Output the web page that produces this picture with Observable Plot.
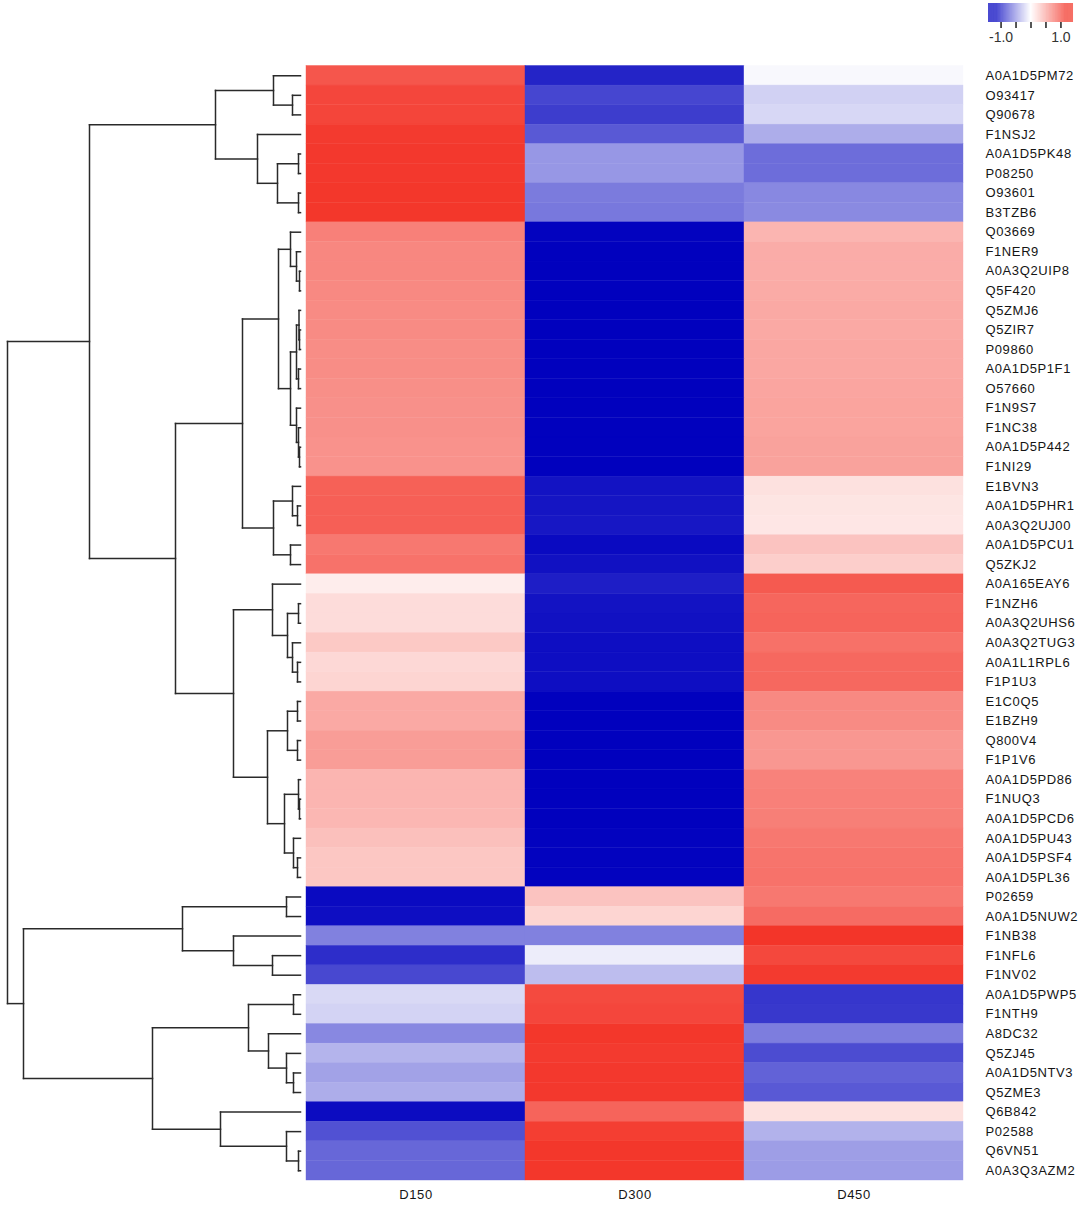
<!DOCTYPE html>
<html>
<head>
<meta charset="utf-8">
<script src="https://cdn.jsdelivr.net/npm/d3@7"></script>
<script src="https://cdn.jsdelivr.net/npm/@observablehq/plot@0.6"></script>
<style>
  body { margin: 0; background: #fff; }
  #chart { position: relative; width: 1084px; height: 1205px; font-family: "Liberation Sans", Arial, sans-serif; }
  #chart > svg { position: absolute; overflow: visible; }
</style>
</head>
<body>
<div id="chart"></div>
<script>
// ---- data ----
const samples = ["D150", "D300", "D450"];
const proteins = [
  "A0A1D5PM72","O93417","Q90678","F1NSJ2","A0A1D5PK48","P08250","O93601","B3TZB6",
  "Q03669","F1NER9","A0A3Q2UIP8","Q5F420","Q5ZMJ6","Q5ZIR7","P09860","A0A1D5P1F1",
  "O57660","F1N9S7","F1NC38","A0A1D5P442","F1NI29","E1BVN3","A0A1D5PHR1","A0A3Q2UJ00",
  "A0A1D5PCU1","Q5ZKJ2","A0A165EAY6","F1NZH6","A0A3Q2UHS6","A0A3Q2TUG3","A0A1L1RPL6","F1P1U3",
  "E1C0Q5","E1BZH9","Q800V4","F1P1V6","A0A1D5PD86","F1NUQ3","A0A1D5PCD6","A0A1D5PU43",
  "A0A1D5PSF4","A0A1D5PL36","P02659","A0A1D5NUW2","F1NB38","F1NFL6","F1NV02","A0A1D5PWP5",
  "F1NTH9","A8DC32","Q5ZJ45","A0A1D5NTV3","Q5ZME3","Q6B842","P02588","Q6VN51","A0A3Q3AZM2"
];
const d150 = [
  0.96, 1.05, 1.06, 1.12, 1.13, 1.13, 1.14, 1.14,
  0.72, 0.68, 0.68, 0.67, 0.66, 0.66, 0.65, 0.65,
  0.64, 0.63, 0.63, 0.62, 0.62, 0.90, 0.91, 0.91,
  0.77, 0.80, 0.10, 0.20, 0.20, 0.31, 0.22, 0.24,
  0.49, 0.49, 0.56, 0.56, 0.42, 0.42, 0.41, 0.36,
  0.32, 0.32, -1.11, -1.09, -0.57, -0.95, -0.83, -0.17,
  -0.20, -0.54, -0.34, -0.42, -0.37, -1.10, -0.79, -0.69, -0.69
];
const d300 = [
  -0.99, -0.84, -0.88, -0.75, -0.47, -0.47, -0.60, -0.61,
  -1.14, -1.15, -1.15, -1.15, -1.15, -1.15, -1.15, -1.15,
  -1.15, -1.15, -1.15, -1.15, -1.15, -1.07, -1.06, -1.05,
  -1.11, -1.08, -1.02, -1.07, -1.08, -1.09, -1.09, -1.09,
  -1.15, -1.15, -1.15, -1.15, -1.15, -1.15, -1.15, -1.14,
  -1.14, -1.14, 0.34, 0.24, -0.57, -0.08, -0.30, 1.03,
  1.05, 1.14, 1.12, 1.13, 1.13, 0.88, 1.10, 1.14, 1.14
];
const d450 = [
  -0.03, -0.21, -0.18, -0.37, -0.66, -0.66, -0.54, -0.53,
  0.42, 0.47, 0.47, 0.48, 0.49, 0.49, 0.50, 0.50,
  0.51, 0.52, 0.52, 0.53, 0.53, 0.17, 0.15, 0.14,
  0.34, 0.28, 0.94, 0.87, 0.88, 0.81, 0.86, 0.86,
  0.67, 0.66, 0.59, 0.59, 0.71, 0.72, 0.73, 0.77,
  0.79, 0.80, 0.77, 0.84, 1.15, 1.04, 1.12, -0.91,
  -0.90, -0.59, -0.81, -0.71, -0.75, 0.17, -0.35, -0.44, -0.45
];
// row clustering: [childA, childB, height]; number = row index, "mK" = K-th merge
const merges = [
  [1, 2, 0.08], [0, "m0", 0.27], [4, 5, 0.02], [6, 7, 0.02], ["m2", "m3", 0.23],
  [3, "m4", 0.43], ["m1", "m5", 0.85], [10, 11, 0.01], [9, "m7", 0.04], [8, "m8", 0.10],
  [13, 14, 0.01], [12, "m10", 0.015], [15, 16, 0.02], ["m11", "m12", 0.04], [19, 20, 0.01],
  [18, "m14", 0.02], [17, "m15", 0.04], ["m13", "m16", 0.10], ["m9", "m17", 0.22], [22, 23, 0.03],
  [21, "m19", 0.08], [24, 25, 0.10], ["m20", "m21", 0.27], ["m18", "m22", 0.58], [27, 28, 0.02],
  [30, 31, 0.03], [29, "m25", 0.08], ["m24", "m26", 0.13], [26, "m27", 0.28], [32, 33, 0.03],
  [34, 35, 0.03], ["m29", "m30", 0.13], [37, 38, 0.01], [36, "m32", 0.02], [40, 41, 0.03],
  [39, "m34", 0.07], ["m33", "m35", 0.16], ["m31", "m36", 0.33], ["m28", "m37", 0.67], ["m23", "m38", 1.25],
  ["m6", "m39", 2.11], [42, 43, 0.14], [45, 46, 0.28], [44, "m42", 0.67], ["m41", "m43", 1.18],
  [47, 48, 0.07], [51, 52, 0.07], [50, "m46", 0.14], [49, "m47", 0.32], ["m45", "m48", 0.52],
  [55, 56, 0.02], [54, "m50", 0.14], [53, "m51", 0.80], ["m49", "m52", 1.48], ["m44", "m53", 2.77],
  ["m40", "m54", 2.93]
];
const legendTicks = [-1, -0.5, 0, 0.5, 1];
const legendLabels = ["-1.0", "", "", "", "1.0"];

// ---- derived tables ----
const series = [d150, d300, d450];
const cells = proteins.flatMap((p, i) => samples.map((s, j) => ({protein: p, sample: s, value: series[j][i]})));

const nodes = [];
const ref = (r) => typeof r === "number" ? {h: 0, y: r + 0.5} : nodes[+r.slice(1)];
const segs = [];
for (const [a, b, h] of merges) {
  const A = ref(a), B = ref(b);
  segs.push({x1: A.h, y1: A.y, x2: h, y2: A.y});
  segs.push({x1: B.h, y1: B.y, x2: h, y2: B.y});
  segs.push({x1: h, y1: A.y, x2: h, y2: B.y});
  nodes.push({h, y: (A.y + B.y) / 2});
}

const colorScale = {
  type: "linear",
  domain: [-1.42, -1.155, 0, 1.155, 1.42],
  range: ["#0000BE", "#0000BE", "#FFFFFF", "#F33428", "#F33428"],
  interpolate: "rgb"
};

const TOP = 65.5, BOTTOM = 1180, H = 1205;
const chart = document.getElementById("chart");

// dendrogram
const dendro = Plot.plot({
  width: 305, height: H,
  marginLeft: 7, marginRight: 5, marginTop: TOP, marginBottom: H - BOTTOM,
  x: {domain: [d3.max(merges, m => m[2]), 0], range: [7, 300], axis: null},
  y: {domain: [0, proteins.length], range: [TOP, BOTTOM], axis: null},
  style: {background: "transparent"},
  marks: [
    Plot.link(segs, {x1: "x1", y1: "y1", x2: "x2", y2: "y2", stroke: "#2a2a2a", strokeWidth: 1.5, strokeLinecap: "square"})
  ]
});
dendro.style.left = "0px"; dendro.style.top = "0px";
chart.appendChild(dendro);

// heatmap
const heat = Plot.plot({
  width: 779, height: H,
  marginLeft: 0, marginRight: 121, marginTop: TOP, marginBottom: H - BOTTOM,
  x: {domain: samples, padding: 0, label: null, axis: "bottom", tickSize: 0, tickPadding: 9},
  y: {domain: proteins, padding: 0, label: null, axis: "right", tickSize: 0, tickPadding: 22},
  color: colorScale,
  style: {background: "transparent", fontFamily: '"Liberation Sans", Arial, sans-serif', fontSize: "13px", color: "#151515", letterSpacing: "0.6px"},
  marks: [
    Plot.cell(cells, {x: "sample", y: "protein", fill: "value", stroke: "value", strokeWidth: 0.4})
  ]
});
heat.style.left = "305px"; heat.style.top = "0px";
chart.appendChild(heat);

// colour legend
const steps = d3.range(-1.42, 1.42, 0.01);
const legend = Plot.plot({
  width: 109, height: 52,
  marginLeft: 13, marginRight: 11, marginTop: 3, marginBottom: 30,
  x: {domain: [-1.42, 1.42], label: null, axis: null},
  color: colorScale,
  style: {background: "transparent", fontFamily: '"Liberation Sans", Arial, sans-serif', fontSize: "14px", color: "#333"},
  marks: [
    Plot.rect(steps, {x1: d => d, x2: d => d + 0.0105, fill: d => d}),
    Plot.axisX({ticks: legendTicks, tickFormat: d => legendLabels[legendTicks.indexOf(d)], tickSize: 6, tickPadding: 4, strokeWidth: 1.8, stroke: "#444", fill: "#333", fontSize: 14, label: null})
  ]
});
legend.style.left = "975px"; legend.style.top = "0px";
chart.appendChild(legend);
</script>
</body>
</html>
